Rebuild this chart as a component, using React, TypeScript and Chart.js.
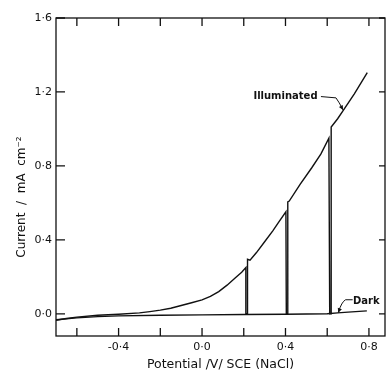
import React, { useEffect, useRef } from "react";
import { Chart, registerables } from "chart.js";

Chart.register(...registerables);

// Illuminated (chopped light) current-potential curve
const illumX = [
  -0.70, -0.65, -0.60, -0.50, -0.40, -0.30, -0.25, -0.20, -0.15, -0.10, -0.05, 0.00, 0.04, 0.08, 0.12, 0.16, 0.19, 0.210,
  0.210, 0.218, 0.218, 0.230, 0.26, 0.30, 0.34, 0.37, 0.402,
  0.404, 0.411, 0.411, 0.418, 0.47, 0.526, 0.57, 0.608,
  0.612, 0.619, 0.619, 0.650, 0.677, 0.73, 0.792,
];
const illumY = [
  -0.035, -0.025, -0.018, -0.008, -0.002, 0.005, 0.012, 0.02, 0.03, 0.045, 0.06, 0.075, 0.094, 0.12, 0.155, 0.195, 0.225, 0.25,
  0.0, 0.0, 0.295, 0.29, 0.33, 0.39, 0.45, 0.50, 0.552,
  0.0, 0.0, 0.605, 0.61, 0.70, 0.79, 0.865, 0.95,
  0.0, 0.0, 1.01, 1.055, 1.10, 1.19, 1.305,
];

// Dark current
const darkX = [-0.70, -0.60, -0.50, -0.40, -0.20, 0.00, 0.20, 0.40, 0.60, 0.65, 0.70, 0.79];
const darkY = [-0.032, -0.022, -0.015, -0.011, -0.008, -0.006, -0.004, -0.002, 0.0, 0.005, 0.009, 0.016];

// Axis ticks
const xTickValues = [-0.6, -0.4, -0.2, 0.0, 0.2, 0.4, 0.6, 0.8];
const xLabeled = [-0.4, 0.0, 0.4, 0.8];
const yTickValues = [0.0, 0.4, 0.8, 1.2, 1.6];

const X_MIN = -0.7;
const X_MAX = 0.877;
const Y_MIN = -0.12;
const Y_MAX = 1.6;

const fmt = (v: number) => (Math.abs(v) < 1e-9 ? 0 : v).toFixed(1).replace(".", "·");

const FONT = "'DejaVu Sans', sans-serif";
const INK = "#111";

function arrowHead(ctx: CanvasRenderingContext2D, fx: number, fy: number, tx: number, ty: number, size: number) {
  const ang = Math.atan2(ty - fy, tx - fx);
  ctx.beginPath();
  ctx.moveTo(tx, ty);
  ctx.lineTo(tx - size * Math.cos(ang - 0.45), ty - size * Math.sin(ang - 0.45));
  ctx.lineTo(tx - size * Math.cos(ang + 0.45), ty - size * Math.sin(ang + 0.45));
  ctx.closePath();
  ctx.fill();
}

const framePlugin = {
  id: "frame",
  afterDraw(chart: any) {
    const { ctx, chartArea: a, scales } = chart;
    const xs = scales.x;
    const ys = scales.y;
    ctx.save();
    ctx.strokeStyle = INK;
    ctx.fillStyle = INK;
    ctx.lineWidth = 1.3;
    ctx.strokeRect(a.left, a.top, a.right - a.left, a.bottom - a.top);
    ctx.beginPath();
    for (const v of xTickValues) {
      const px = xs.getPixelForValue(v);
      ctx.moveTo(px, a.bottom);
      ctx.lineTo(px, a.bottom - 8);
      ctx.moveTo(px, a.top);
      ctx.lineTo(px, a.top + 8);
    }
    for (const v of yTickValues) {
      const py = ys.getPixelForValue(v);
      ctx.moveTo(a.left, py);
      ctx.lineTo(a.left + 9, py);
      ctx.moveTo(a.right, py);
      ctx.lineTo(a.right - 6, py);
    }
    ctx.stroke();

    // Y axis title
    ctx.save();
    ctx.translate(21.5, 197);
    ctx.rotate(-Math.PI / 2);
    ctx.font = `12px ${FONT}`;
    ctx.textAlign = "center";
    ctx.textBaseline = "middle";
    ctx.fillText("Current  /  mA  cm⁻²", 0, 0);
    ctx.restore();

    // Annotations
    ctx.font = `bold 10px ${FONT}`;
    ctx.textBaseline = "middle";
    ctx.textAlign = "center";
    ctx.fillText("Illuminated", xs.getPixelForValue(0.40), ys.getPixelForValue(1.175));
    ctx.textAlign = "left";
    ctx.fillText("Dark", xs.getPixelForValue(0.7235), ys.getPixelForValue(0.069));

    ctx.lineWidth = 1;
    // Illuminated arrow
    const i0x = xs.getPixelForValue(0.57), i0y = ys.getPixelForValue(1.175);
    const i1x = xs.getPixelForValue(0.642), i1y = ys.getPixelForValue(1.168);
    const i2x = xs.getPixelForValue(0.676), i2y = ys.getPixelForValue(1.103);
    ctx.beginPath();
    ctx.moveTo(i0x, i0y);
    ctx.lineTo(i1x, i1y);
    ctx.quadraticCurveTo(i1x + 3, i1y + 4, i2x, i2y);
    ctx.stroke();
    arrowHead(ctx, i1x + 2, i1y + 3, i2x, i2y, 5);

    // Dark arrow
    const d0x = xs.getPixelForValue(0.722), d0y = ys.getPixelForValue(0.076);
    const d1x = xs.getPixelForValue(0.688), d1y = ys.getPixelForValue(0.076);
    const d2x = xs.getPixelForValue(0.653), d2y = ys.getPixelForValue(0.006);
    ctx.beginPath();
    ctx.moveTo(d0x, d0y);
    ctx.lineTo(d1x, d1y);
    ctx.quadraticCurveTo(d1x - 4, d1y + 2, d2x, d2y);
    ctx.stroke();
    arrowHead(ctx, d1x - 4, d1y + 4, d2x, d2y, 5);

    ctx.restore();
  },
};

export default function App() {
  const ref = useRef<HTMLCanvasElement | null>(null);

  useEffect(() => {
    if (!ref.current) return;
    const illum = illumX.map((x, i) => ({ x, y: illumY[i] }));
    const dark = darkX.map((x, i) => ({ x, y: darkY[i] }));
    const chart = new Chart(ref.current, {
      type: "scatter",
      data: {
        datasets: [
          {
            label: "Illuminated",
            data: illum,
            showLine: true,
            borderColor: INK,
            borderWidth: 1.4,
            pointRadius: 0,
            tension: 0,
          },
          {
            label: "Dark",
            data: dark,
            showLine: true,
            borderColor: INK,
            borderWidth: 1.4,
            pointRadius: 0,
            tension: 0,
          },
        ],
      },
      options: {
        responsive: false,
        animation: false,
        layout: { padding: { left: 0, right: 2, top: 18, bottom: 0 } },
        plugins: {
          legend: { display: false },
          tooltip: { enabled: false },
        },
        scales: {
          x: {
            type: "linear",
            min: X_MIN,
            max: X_MAX,
            afterBuildTicks: (s: any) => {
              s.ticks = xTickValues.map((v) => ({ value: v }));
            },
            afterFit: (s: any) => {
              s.height = 38;
            },
            grid: { display: false, drawTicks: false },
            border: { display: false },
            ticks: {
              autoSkip: false,
              maxRotation: 0,
              padding: 5,
              color: INK,
              font: { family: FONT, size: 11 },
              callback: (v: any) => (xLabeled.some((l) => Math.abs(l - v) < 1e-6) ? fmt(Number(v)) : ""),
            },
            title: {
              display: true,
              text: "Potential /V/ SCE (NaCl)",
              color: INK,
              font: { family: FONT, size: 12.5 },
              padding: { top: 0, bottom: 2 },
            },
          },
          y: {
            type: "linear",
            min: Y_MIN,
            max: Y_MAX,
            afterBuildTicks: (s: any) => {
              s.ticks = yTickValues.map((v) => ({ value: v }));
            },
            afterFit: (s: any) => {
              s.width = 56;
            },
            grid: { display: false, drawTicks: false },
            border: { display: false },
            ticks: {
              autoSkip: false,
              padding: 4,
              color: INK,
              font: { family: FONT, size: 11 },
              callback: (v: any) => fmt(Number(v)),
            },
          },
        },
      },
      plugins: [framePlugin],
    });
    return () => chart.destroy();
  }, []);

  return (
    <div style={{ position: "fixed", left: 0, top: 0, width: 387, height: 374, background: "#fff" }}>
      <canvas ref={ref} width={387} height={374} />
    </div>
  );
}
